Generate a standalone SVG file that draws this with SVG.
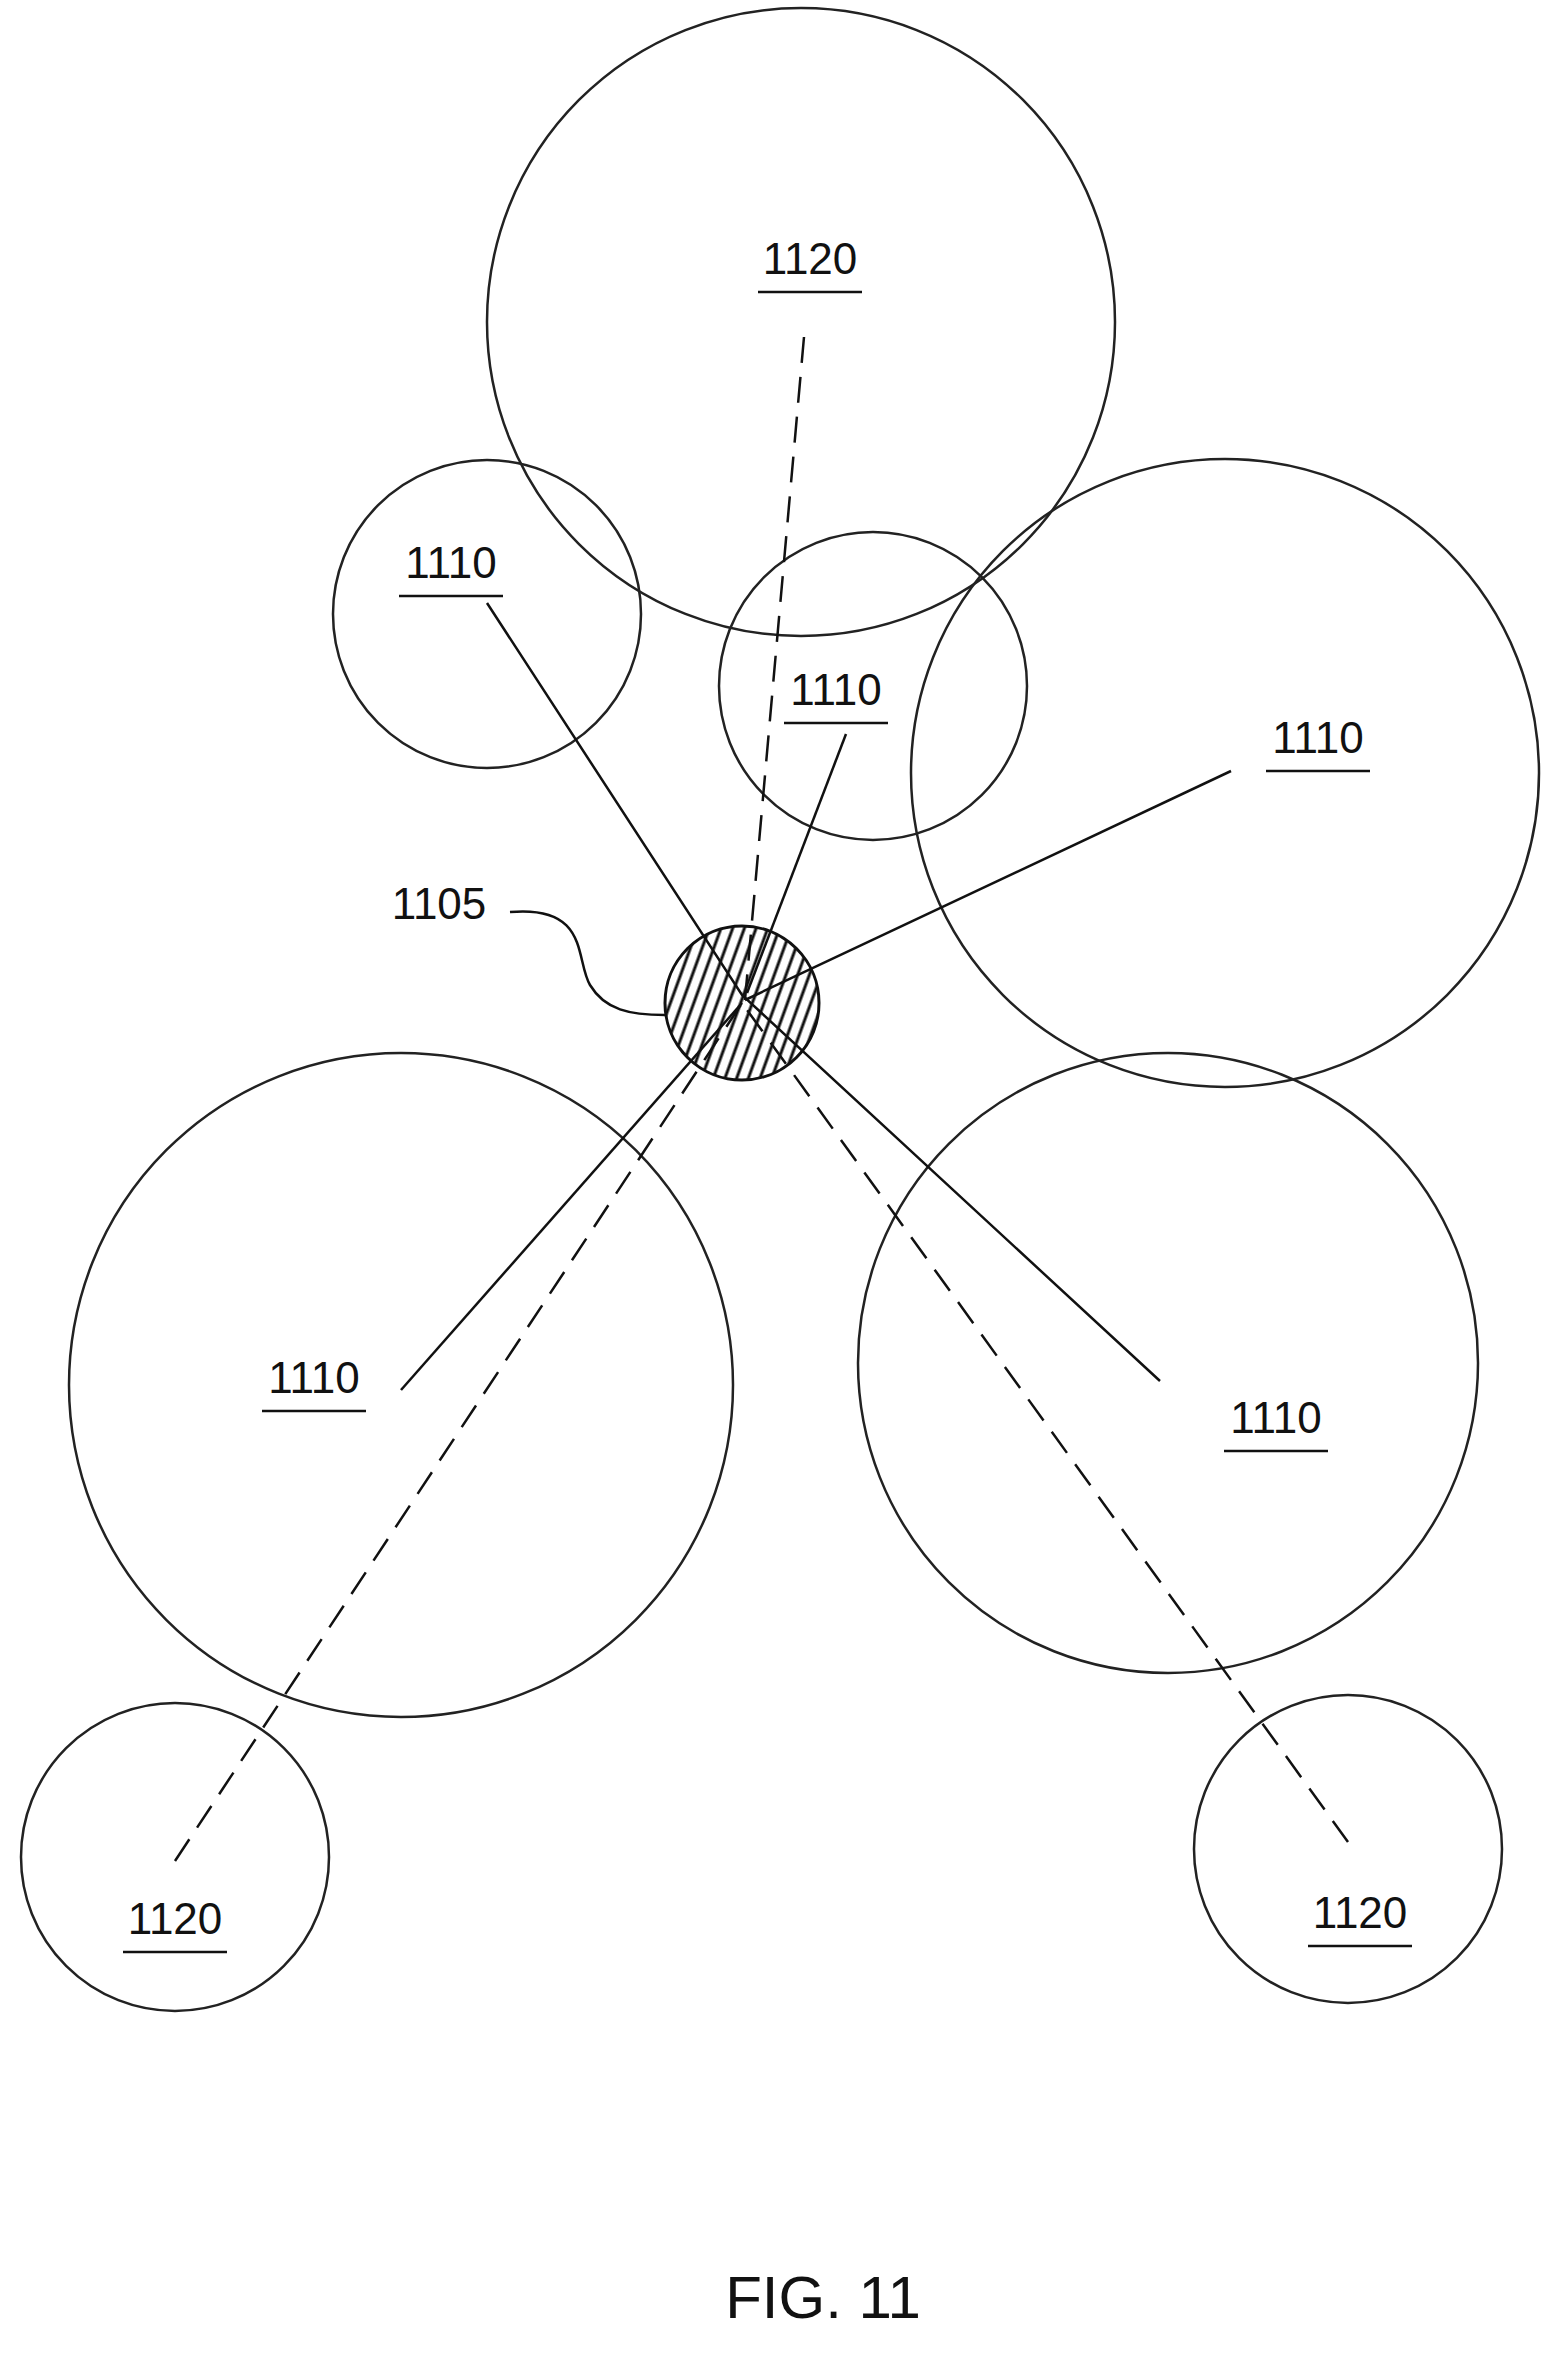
<svg xmlns="http://www.w3.org/2000/svg" width="1566" height="2354" viewBox="0 0 1566 2354">
<style>
.c{fill:none;stroke:#222;stroke-width:2.5}
.l{fill:none;stroke:#111;stroke-width:2.5}
.d{fill:none;stroke:#111;stroke-width:2.5;stroke-dasharray:26 14}
text{font-family:"Liberation Sans",Arial,sans-serif;font-size:44px;fill:#111;text-anchor:middle}
.u{stroke:#111;stroke-width:2.5}
</style>
<defs>
<pattern id="h" width="11" height="11" patternUnits="userSpaceOnUse" patternTransform="rotate(20)">
<line x1="5" y1="0" x2="5" y2="11" stroke="#111" stroke-width="3"/>
</pattern>
</defs>
<rect width="1566" height="2354" fill="#fff"/>
<g id="n1120a"><circle class="c" cx="801" cy="322" r="314"/><text x="810" y="274">1120</text><line class="u" x1="758" y1="292" x2="862" y2="292"/></g>
<g id="n1110a"><circle class="c" cx="487" cy="614" r="154"/><text x="451" y="578">1110</text><line class="u" x1="399" y1="596" x2="503" y2="596"/></g>
<g id="n1110b"><circle class="c" cx="873" cy="686" r="154"/><text x="836" y="705">1110</text><line class="u" x1="784" y1="723" x2="888" y2="723"/></g>
<g id="n1110c"><circle class="c" cx="1225" cy="773" r="314"/><text x="1318" y="753">1110</text><line class="u" x1="1266" y1="771" x2="1370" y2="771"/></g>
<g id="n1110d"><circle class="c" cx="401" cy="1385" r="332"/><text x="314" y="1393">1110</text><line class="u" x1="262" y1="1411" x2="366" y2="1411"/></g>
<g id="n1110e"><circle class="c" cx="1168" cy="1363" r="310"/><text x="1276" y="1433">1110</text><line class="u" x1="1224" y1="1451" x2="1328" y2="1451"/></g>
<g id="n1120b"><circle class="c" cx="175" cy="1857" r="154"/><text x="175" y="1934">1120</text><line class="u" x1="123" y1="1952" x2="227" y2="1952"/></g>
<g id="n1120c"><circle class="c" cx="1348" cy="1849" r="154"/><text x="1360" y="1928">1120</text><line class="u" x1="1308" y1="1946" x2="1412" y2="1946"/></g>
<g id="n1105"><circle cx="742" cy="1003" r="77" fill="url(#h)" stroke="#111" stroke-width="3"/><text x="439" y="919">1105</text></g>
<g id="connectors">
<polyline class="l" points="487,603 742,995 1160,1381"/>
<line class="l" x1="846" y1="734" x2="747" y2="993"/>
<line class="l" x1="1231" y1="771" x2="745" y2="1000"/>
<line class="l" x1="401" y1="1390" x2="742" y2="1003"/>
<line class="d" x1="804" y1="337" x2="745" y2="1000"/>
<line class="d" x1="175" y1="1861" x2="742" y2="1003"/>
<line class="d" x1="1348" y1="1842" x2="742" y2="1003"/>
<path class="l" d="M510,912 C590,905 575,960 590,985 C605,1010 630,1015 665,1015"/>
</g>
<text x="823" y="2318" style="font-size:60px">FIG. 11</text>
</svg>
